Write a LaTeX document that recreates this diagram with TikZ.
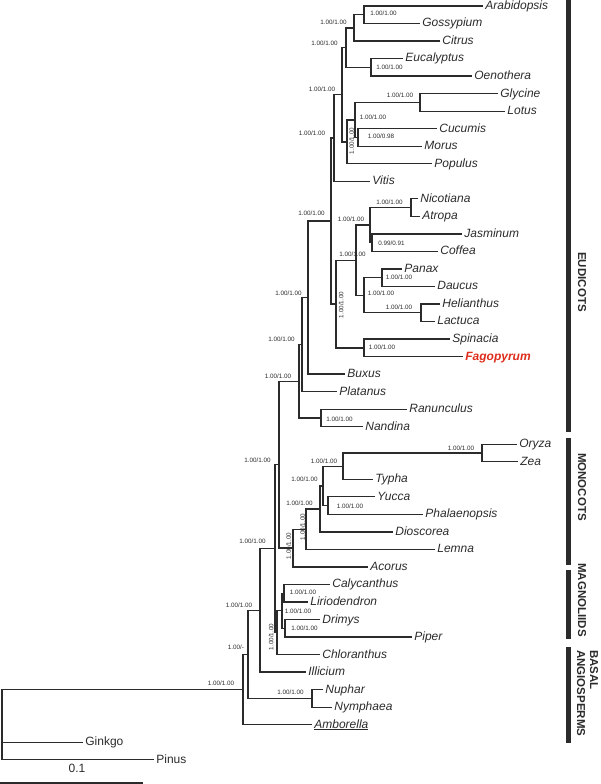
\documentclass[tikz,border=0pt]{standalone}
\usepackage{fontspec}
\setmainfont{Liberation Sans}
\definecolor{ln}{HTML}{2B2B2B}
\definecolor{fago}{RGB}{222,44,28}
\tikzset{
  br/.style={draw=ln, line width=1.3pt},
  taxon/.style={anchor=base west, inner sep=0pt, xshift=2.2pt, yshift=-3.4pt, font=\fontsize{12}{14}\selectfont\itshape, text=ln},
  plain/.style={taxon, font=\fontsize{12}{14}\selectfont},
  supp/.style={font=\fontsize{6.3}{7}\selectfont, inner sep=0pt, text=ln},
  suppr/.style={supp, rotate=90},
  clade/.style={font=\fontsize{11.5}{13}\selectfont\bfseries, rotate=-90, inner sep=0pt, text=ln},
  cbar/.style={draw=ln, line width=4.5pt}
}
\begin{document}
\begin{tikzpicture}[x=1pt,y=-1pt]
\useasboundingbox (0,0) rectangle (600,784);
% ---- tips ----
\coordinate (arab) at (483,6.0);
\coordinate (goss) at (420,23.5);
\coordinate (citr) at (440,41.1);
\coordinate (euca) at (403,58.6);
\coordinate (oeno) at (472,76.1);
\coordinate (glyc) at (498,93.7);
\coordinate (lotu) at (505,111.2);
\coordinate (cucu) at (437,128.7);
\coordinate (moru) at (422,146.2);
\coordinate (popu) at (432,163.8);
\coordinate (viti) at (370,181.3);
\coordinate (nico) at (418,198.8);
\coordinate (atro) at (420,216.4);
\coordinate (jasm) at (462,233.9);
\coordinate (coff) at (438,251.4);
\coordinate (pana) at (402,269.0);
\coordinate (dauc) at (435,286.5);
\coordinate (heli) at (440,304.0);
\coordinate (lact) at (435,321.5);
\coordinate (spin) at (450,339.1);
\coordinate (fago) at (463,356.6);
\coordinate (buxu) at (345,374.1);
\coordinate (plat) at (337,391.7);
\coordinate (ranu) at (407,409.2);
\coordinate (nand) at (363,426.7);
\coordinate (oryz) at (517,444.3);
\coordinate (zeaa) at (518,461.8);
\coordinate (typh) at (373,479.3);
\coordinate (yucc) at (375,496.8);
\coordinate (phal) at (423,514.4);
\coordinate (dios) at (393,531.9);
\coordinate (lemn) at (435,549.4);
\coordinate (acor) at (368,567.0);
\coordinate (caly) at (330,584.5);
\coordinate (liri) at (308,602.0);
\coordinate (drim) at (320,619.6);
\coordinate (pipe) at (412,637.1);
\coordinate (chlo) at (320,654.6);
\coordinate (illi) at (306,672.1);
\coordinate (nuph) at (323,689.7);
\coordinate (nymp) at (332,707.2);
\coordinate (ambo) at (312,724.7);
\coordinate (gink) at (83,742.3);
\coordinate (pinu) at (154,759.8);
% ---- internal nodes ----
\coordinate (AG) at (364,14.75);
\coordinate (AGC) at (354,27.9);
\coordinate (EO) at (371,67.35);
\coordinate (MAL) at (346,47.6);
\coordinate (GL) at (420,102.45);
\coordinate (CM) at (358,137.45);
\coordinate (GLCM) at (355,119.95);
\coordinate (FAB) at (347,141.9);
\coordinate (ROS) at (342,94.75);
\coordinate (E1) at (334,138.0);
\coordinate (NA) at (411,207.6);
\coordinate (JC) at (372,242.65);
\coordinate (LAM) at (370,225.1);
\coordinate (PD) at (382,277.75);
\coordinate (HL) at (421,312.75);
\coordinate (CAMP) at (364,295.25);
\coordinate (AST) at (356,260.2);
\coordinate (SF) at (364,347.85);
\coordinate (E2) at (336,304.0);
\coordinate (E3) at (331,221.0);
\coordinate (E4) at (308,297.55);
\coordinate (E5) at (302,344.6);
\coordinate (RN) at (321,417.95);
\coordinate (E6) at (299,381.3);
\coordinate (OZ) at (482,453.05);
\coordinate (POA) at (343,466.2);
\coordinate (YP) at (328,505.6);
\coordinate (P2) at (323,485.9);
\coordinate (P3) at (320,508.9);
\coordinate (P4) at (306,529.15);
\coordinate (MON) at (293,548.1);
\coordinate (MES1) at (279,464.7);
\coordinate (CL) at (284,593.25);
\coordinate (DP) at (285,628.35);
\coordinate (MAG) at (282,610.8);
\coordinate (MC) at (277,632.7);
\coordinate (MES2) at (275,548.7);
\coordinate (N1) at (260,610.4);
\coordinate (NN) at (312,698.45);
\coordinate (N2) at (248,654.4);
\coordinate (ANG) at (243,689.55);
\coordinate (ROOT) at (2,724.7);
% ---- branches ----
\foreach \p/\c in {AG/arab,AG/goss,AGC/AG,AGC/citr,EO/euca,EO/oeno,MAL/AGC,MAL/EO,
  GL/glyc,GL/lotu,CM/cucu,CM/moru,GLCM/GL,GLCM/CM,FAB/GLCM,FAB/popu,ROS/MAL,ROS/FAB,
  E1/ROS,E1/viti,NA/nico,NA/atro,JC/jasm,JC/coff,LAM/NA,LAM/JC,PD/pana,PD/dauc,
  HL/heli,HL/lact,CAMP/PD,CAMP/HL,AST/LAM,AST/CAMP,SF/spin,SF/fago,E2/AST,E2/SF,
  E3/E1,E3/E2,E4/E3,E4/buxu,E5/E4,E5/plat,RN/ranu,RN/nand,E6/E5,E6/RN,
  OZ/oryz,OZ/zeaa,POA/OZ,POA/typh,YP/yucc,YP/phal,P2/POA,P2/YP,P3/P2,P3/dios,
  P4/P3,P4/lemn,MON/P4,MON/acor,MES1/E6,MES1/MON,
  CL/caly,CL/liri,DP/drim,DP/pipe,MAG/CL,MAG/DP,MC/MAG,MC/chlo,MES2/MES1,MES2/MC,
  N1/MES2,N1/illi,NN/nuph,NN/nymp,N2/N1,N2/NN,ANG/N2,ANG/ambo,
  ROOT/ANG,ROOT/gink,ROOT/pinu}
  \draw[br] (\p) |- (\c);
% ---- taxon labels ----
\node[taxon] (tarab) at (arab) {Arabidopsis};
\node[taxon] (tgoss) at (goss) {Gossypium};
\node[taxon] (tcitr) at (citr) {Citrus};
\node[taxon] (teuca) at (euca) {Eucalyptus};
\node[taxon] (toeno) at (oeno) {Oenothera};
\node[taxon] (tglyc) at (glyc) {Glycine};
\node[taxon] (tlotu) at (lotu) {Lotus};
\node[taxon] (tcucu) at (cucu) {Cucumis};
\node[taxon] (tmoru) at (moru) {Morus};
\node[taxon] (tpopu) at (popu) {Populus};
\node[taxon] (tviti) at (viti) {Vitis};
\node[taxon] (tnico) at (nico) {Nicotiana};
\node[taxon] (tatro) at (atro) {Atropa};
\node[taxon] (tjasm) at (jasm) {Jasminum};
\node[taxon] (tcoff) at (coff) {Coffea};
\node[taxon] (tpana) at (pana) {Panax};
\node[taxon] (tdauc) at (dauc) {Daucus};
\node[taxon] (theli) at (heli) {Helianthus};
\node[taxon] (tlact) at (lact) {Lactuca};
\node[taxon] (tspin) at (spin) {Spinacia};
\node[taxon, text=fago, font=\fontsize{12}{14}\selectfont\bfseries\itshape] (tfago) at (fago) {Fagopyrum};
\node[taxon] (tbuxu) at (buxu) {Buxus};
\node[taxon] (tplat) at (plat) {Platanus};
\node[taxon] (tranu) at (ranu) {Ranunculus};
\node[taxon] (tnand) at (nand) {Nandina};
\node[taxon] (toryz) at (oryz) {Oryza};
\node[taxon] (tzeaa) at (zeaa) {Zea};
\node[taxon] (ttyph) at (typh) {Typha};
\node[taxon] (tyucc) at (yucc) {Yucca};
\node[taxon] (tphal) at (phal) {Phalaenopsis};
\node[taxon] (tdios) at (dios) {Dioscorea};
\node[taxon] (tlemn) at (lemn) {Lemna};
\node[taxon] (tacor) at (acor) {Acorus};
\node[taxon] (tcaly) at (caly) {Calycanthus};
\node[taxon] (tliri) at (liri) {Liriodendron};
\node[taxon] (tdrim) at (drim) {Drimys};
\node[taxon] (tpipe) at (pipe) {Piper};
\node[taxon] (tchlo) at (chlo) {Chloranthus};
\node[taxon] (tilli) at (illi) {Illicium};
\node[taxon] (tnuph) at (nuph) {Nuphar};
\node[taxon] (tnymp) at (nymp) {Nymphaea};
\node[taxon] (tambo) at (ambo) {\underline{Amborella}};
\node[plain] (tgink) at (gink) {Ginkgo};
\node[plain] (tpinu) at (pinu) {Pinus};
% ---- support values ----
\node[supp] (lAG) at (383.5,13) {1.00/1.00};
\node[supp] (lAGC) at (333.5,22.7) {1.00/1.00};
\node[supp] (lEO) at (389.5,67) {1.00/1.00};
\node[supp] (lMAL) at (324.5,43) {1.00/1.00};
\node[supp] (lROS) at (322,89) {1.00/1.00};
\node[supp] (lGL) at (400,95) {1.00/1.00};
\node[supp] (lGLCM) at (373,117) {1.00/1.00};
\node[supp] (lCM) at (381,136) {1.00/0.98};
\node[suppr] (lFAB) at (351.5,141) {1.00/1.00};
\node[supp] (lE1) at (312,133) {1.00/1.00};
\node[supp] (lE3) at (311.5,213) {1.00/1.00};
\node[supp] (lNA) at (389.5,202) {1.00/1.00};
\node[supp] (lLAM) at (351,219) {1.00/1.00};
\node[supp] (lJC) at (391.5,243) {0.99/0.91};
\node[supp] (lAST) at (352.5,254) {1.00/1.00};
\node[supp] (lPD) at (399,277) {1.00/1.00};
\node[supp] (lCAMP) at (381,293) {1.00/1.00};
\node[supp] (lHL) at (399,307) {1.00/1.00};
\node[supp] (lSF) at (382,347) {1.00/1.00};
\node[suppr] (lE2) at (341,305) {1.00/1.00};
\node[supp] (lE4) at (288.5,293) {1.00/1.00};
\node[supp] (lE5) at (281.5,339) {1.00/1.00};
\node[supp] (lRN) at (339.5,419) {1.00/1.00};
\node[supp] (lE6) at (278,376) {1.00/1.00};
\node[supp] (lMES1) at (257.5,460) {1.00/1.00};
\node[supp] (lOZ) at (461,448) {1.00/1.00};
\node[supp] (lPOA) at (324,461) {1.00/1.00};
\node[supp] (lP2) at (304.5,479.5) {1.00/1.00};
\node[supp] (lYP) at (350,506) {1.00/1.00};
\node[supp] (lP3) at (299.5,503) {1.00/1.00};
\node[suppr] (lP4) at (302.5,527) {1.00/1.00};
\node[suppr] (lMON) at (288.5,546) {1.00/1.00};
\node[supp] (lMES2) at (252.5,541) {1.00/1.00};
\node[supp] (lCL) at (303,592) {1.00/1.00};
\node[supp] (lDP) at (304.5,628) {1.00/1.00};
\node[supp] (lMAG) at (298,611) {1.00/1.00};
\node[suppr] (lMC) at (271,637) {1.00/1.00};
\node[supp] (lN1) at (239,605) {1.00/1.00};
\node[supp] (lNN) at (290.5,692) {1.00/1.00};
\node[supp] (lN2) at (236,647) {1.00/-};
\node[supp] (lANG) at (221,683) {1.00/1.00};
% ---- scale bar ----
\coordinate (sb0) at (0,783);
\coordinate (sb1) at (143,783);
\draw[br] (sb0) -- (sb1);
\node[font=\fontsize{12}{14}\selectfont, text=ln, inner sep=0pt] (sbl) at (77,768) {0.1};
% ---- clade bars ----
\coordinate (eu0) at (568.5,0);   \coordinate (eu1) at (568.5,432);
\coordinate (mo0) at (568.5,438); \coordinate (mo1) at (568.5,565);
\coordinate (ma0) at (568.5,570); \coordinate (ma1) at (568.5,639);
\coordinate (ba0) at (568.5,647); \coordinate (ba1) at (568.5,743);
\draw[cbar] (eu0) -- (eu1);
\draw[cbar] (mo0) -- (mo1);
\draw[cbar] (ma0) -- (ma1);
\draw[cbar] (ba0) -- (ba1);
\node[clade] (ceu) at (582,282) {EUDICOTS};
\node[clade] (cmo) at (582,487) {MONOCOTS};
\node[clade] (cma) at (582,600) {MAGNOLIIDS};
\node[clade, align=left, anchor=west] (cba) at (587.5,650) {BASAL\\ANGIOSPERMS};
\end{tikzpicture}
\end{document}
